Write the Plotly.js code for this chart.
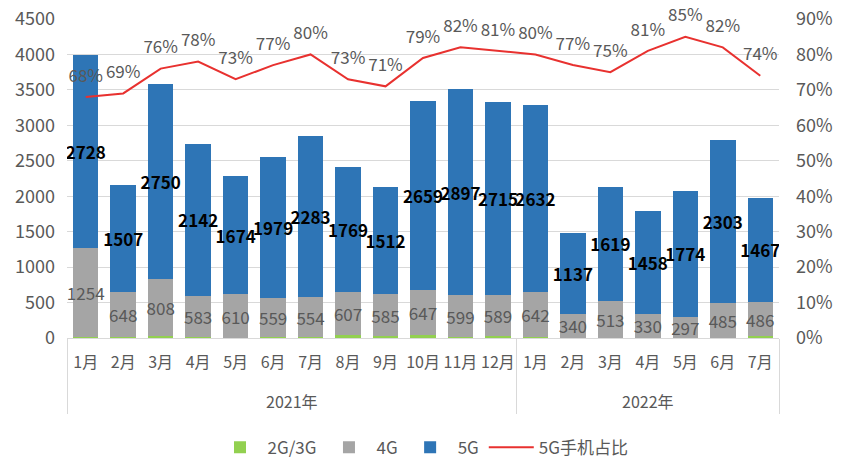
<!DOCTYPE html>
<html>
<head>
<meta charset="utf-8">
<script src="https://cdn.plot.ly/plotly-3.0.1.min.js"></script>
<style>html,body{margin:0;padding:0;background:#fff;}#chart{width:844px;height:465px;}</style>
</head>
<body>
<div id="chart"></div>
<script>
var years = ['2021年','2021年','2021年','2021年','2021年','2021年','2021年','2021年','2021年','2021年','2021年','2021年','2022年','2022年','2022年','2022年','2022年','2022年','2022年'];
var months = ['1月','2月','3月','4月','5月','6月','7月','8月','9月','10月','11月','12月','1月','2月','3月','4月','5月','6月','7月'];
var g23 = [16,8,31,13,5,12,18,38,31,37,10,24,12,5,5,5,5,5,25];
var g4 = [1254,648,808,583,610,559,554,607,585,647,599,589,642,340,513,330,297,485,486];
var g5 = [2728,1507,2750,2142,1674,1979,2283,1769,1512,2659,2897,2715,2632,1137,1619,1458,1774,2303,1467];
var ratio = [68,69,76,78,73,77,80,73,71,79,82,81,80,77,75,81,85,82,74];

var FONT = 'Noto Sans CJK SC, Noto Sans, sans-serif';
// month label gets an empty, taller second line so the year row sits lower, as in the reference
var monthLabels = months.map(function(m){ return m + '<br><span style="font-size:29px">&nbsp;</span>'; });
var x = [years, monthLabels];

var traces = [
  {type:'bar', name:'2G/3G', x:x, y:g23, marker:{color:'#92D050'}, hoverinfo:'none'},
  {type:'bar', name:'4G', x:x, y:g4, marker:{color:'#A5A5A5'},
   text:g4.map(String), textposition:'inside', insidetextanchor:'middle', textangle:0, constraintext:'none',
   textfont:{family:FONT, size:17, color:'#595959'}, hoverinfo:'none'},
  {type:'bar', name:'5G', x:x, y:g5, marker:{color:'#2E75B6'},
   text:g5.map(String), textposition:'inside', insidetextanchor:'middle', textangle:0, constraintext:'none',
   textfont:{family:FONT, size:17, color:'#000000', weight:'bold'}, hoverinfo:'none'},
  {type:'scatter', mode:'lines+markers+text', name:'5G手机占比', x:x, y:ratio, yaxis:'y2',
   line:{color:'#E8312F', width:2}, marker:{size:16, color:'rgba(0,0,0,0)', line:{width:0}},
   text:ratio.map(function(v){return v+'%';}), textposition:'top center',
   textfont:{family:FONT, size:17, color:'#595959'}, cliponaxis:false, hoverinfo:'none'}
];

var layout = {
  width:844, height:465,
  margin:{l:67, r:65, t:19, b:127},
  barmode:'stack', bargap:0.32,
  paper_bgcolor:'#fff', plot_bgcolor:'#fff',
  font:{family:FONT, size:16, color:'#595959'},
  uniformtext:{mode:'show', minsize:17},
  showlegend:true,
  legend:{orientation:'h', x:0.5, xanchor:'center', yref:'container', y:0.037, yanchor:'middle', font:{size:17, color:'#595959'}, traceorder:'normal', itemwidth:45},
  xaxis:{type:'multicategory', range:[-0.5, 18.5], automargin:false, showline:true, linecolor:'#D9D9D9', linewidth:1, showdividers:true, dividercolor:'#D9D9D9', dividerwidth:1,
         tickfont:{size:16, color:'#595959'}, tickangle:0, ticks:'', ticklabelstandoff:10},
  yaxis:{range:[0,4500], dtick:500, automargin:false, showgrid:true, gridcolor:'#D9D9D9', gridwidth:1, zeroline:false, ticklabelstandoff:11, tickfont:{size:18, color:'#595959'}},
  yaxis2:{overlaying:'y', side:'right', automargin:false, range:[0,90], dtick:10, ticksuffix:'%', showgrid:false, zeroline:false, ticklabelstandoff:16, tickfont:{size:18, color:'#595959'}}
};

Plotly.newPlot('chart', traces, layout, {displayModeBar:false, staticPlot:true});
</script>
</body>
</html>
